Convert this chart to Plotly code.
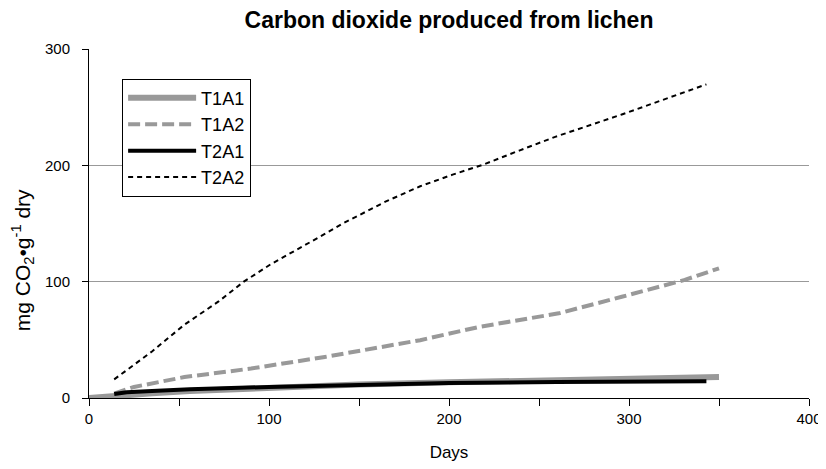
import plotly.graph_objects as go

# Data
t1a1_days = [0, 14, 35, 56, 100, 150, 200, 260, 300, 350]
t1a1_vals = [0, 2, 4, 6, 9, 11.5, 13.5, 15.5, 16.8, 18]

t1a2_days = [14, 25, 53, 90, 131, 184, 217, 261, 296, 331, 350]
t1a2_vals = [3.8, 9.5, 18, 25.3, 35.3, 49.7, 61.2, 72.8, 87, 101.5, 111.5]

t2a1_days = [14, 21, 35, 56, 100, 150, 200, 260, 300, 343]
t2a1_vals = [3.5, 5, 6, 7.5, 9.5, 11.5, 12.8, 13.8, 14.2, 14.5]

t2a2_days = [14, 35, 53, 72, 86, 101, 131, 141, 165, 184, 202, 219, 239, 259, 296, 343]
t2a2_vals = [16, 40, 63, 83, 100, 115, 141, 150, 169, 182, 192, 200.6, 212.7, 224.5, 243.7, 269.6]

FONT = "Liberation Sans, Arial, sans-serif"
GREY = "#999999"

fig = go.Figure()
fig.add_trace(go.Scatter(x=t1a1_days, y=t1a1_vals, mode="lines", name="T1A1",
                         line=dict(color=GREY, width=6)))
fig.add_trace(go.Scatter(x=t1a2_days, y=t1a2_vals, mode="lines", name="T1A2",
                         line=dict(color=GREY, width=4, dash="12px,5px")))
fig.add_trace(go.Scatter(x=t2a1_days, y=t2a1_vals, mode="lines", name="T2A1",
                         line=dict(color="black", width=4)))
fig.add_trace(go.Scatter(x=t2a2_days, y=t2a2_vals, mode="lines", name="T2A2",
                         line=dict(color="black", width=2, dash="5px,4px")))

fig.add_annotation(text="mg CO<sub>2</sub>•g<sup>-1</sup> dry",
                   xref="paper", yref="paper", x=-0.093, y=0.395,
                   xanchor="center", yanchor="middle", textangle=-90,
                   showarrow=False, font=dict(family=FONT, size=21, color="black"))

fig.update_layout(
    width=818, height=461,
    margin=dict(l=81, r=17, t=41, b=71, autoexpand=False),
    paper_bgcolor="white", plot_bgcolor="white",
    font=dict(family=FONT, size=16, color="black"),
    title=dict(text="<b>Carbon dioxide produced from lichen</b>",
               x=0.5, xref="paper", xanchor="center",
               y=0.975, yref="container", yanchor="middle",
               font=dict(family=FONT, size=23, color="black")),
    showlegend=True,
    legend=dict(x=0.046, y=0.915, xanchor="left", yanchor="top",
                bgcolor="white", bordercolor="black", borderwidth=1,
                font=dict(family=FONT, size=18, color="black"),
                itemwidth=68, tracegroupgap=0),
    xaxis=dict(range=[0, 400], dtick=100, tick0=0, automargin=False,
               showline=True, linecolor="black", linewidth=1,
               ticks="outside", ticklen=7, tickcolor="black",
               minor=dict(dtick=50, ticks="outside", ticklen=7, tickcolor="black", showgrid=False),
               showgrid=False, zeroline=False,
               title=dict(text="Days", font=dict(family=FONT, size=17), standoff=20),
               tickfont=dict(family=FONT, size=15)),
    yaxis=dict(range=[0, 300], dtick=100, tick0=0, automargin=False,
               showline=True, linecolor="black", linewidth=1,
               ticks="outside", ticklen=6, tickcolor="black",
               ticklabelstandoff=9,
               showgrid=True, gridcolor=GREY, gridwidth=1, zeroline=False,
               tickfont=dict(family=FONT, size=15)),
)

fig.write_html("out.html")
